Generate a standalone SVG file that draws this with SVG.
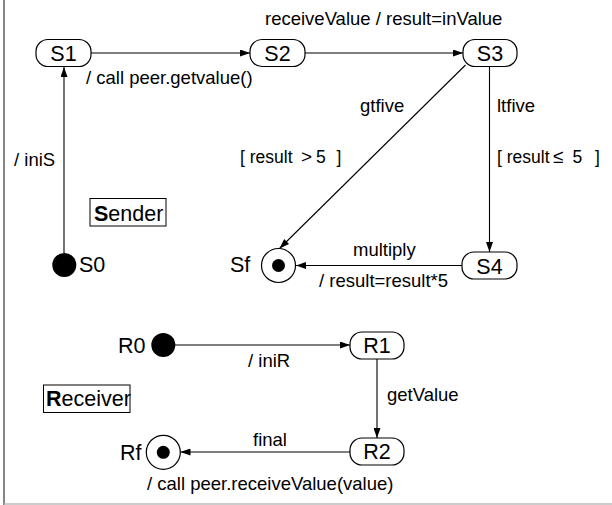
<svg xmlns="http://www.w3.org/2000/svg" width="612" height="505" viewBox="0 0 612 505">
<style>
text{font-family:"Liberation Sans",Arial,sans-serif;font-size:18.5px;fill:#000}
.nl{font-size:21.5px}
.gd{font-size:17.5px}
.st{fill:#fff;stroke:#000;stroke-width:1.2}
.ln{fill:none;stroke:#000;stroke-width:1.1}
.mid{text-anchor:middle}
</style>
<defs>
<marker id="ah" markerUnits="userSpaceOnUse" markerWidth="10" markerHeight="7" refX="10" refY="3.5" orient="auto">
<path d="M0,0 L10,3.5 L0,7 z" fill="#000"/>
</marker>
</defs>
<rect x="0" y="0" width="612" height="505" fill="#fff"/>
<line x1="4" y1="0" x2="4" y2="505" stroke="#666" stroke-width="1.6"/>
<line x1="4" y1="504" x2="612" y2="504" stroke="#bbb" stroke-width="1.5"/>

<g id="connectors">
<line class="ln" x1="64" y1="253" x2="64" y2="67" marker-end="url(#ah)"/>
<line class="ln" x1="91" y1="53" x2="250" y2="53" marker-end="url(#ah)"/>
<line class="ln" x1="305" y1="53" x2="463" y2="53" marker-end="url(#ah)"/>
<line class="ln" x1="489.5" y1="67" x2="489.5" y2="252" marker-end="url(#ah)"/>
<line class="ln" x1="465.5" y1="65" x2="279.5" y2="248.5" marker-end="url(#ah)"/>
<line class="ln" x1="462" y1="265.5" x2="296" y2="265.5" marker-end="url(#ah)"/>
<line class="ln" x1="175" y1="345" x2="350" y2="345" marker-end="url(#ah)"/>
<line class="ln" x1="377" y1="359" x2="377" y2="438" marker-end="url(#ah)"/>
<line class="ln" x1="350" y1="452" x2="180.5" y2="452" marker-end="url(#ah)"/>
<text x="265" y="25">receiveValue / result=inValue</text>
<text x="86" y="84">/ call peer.getvalue()</text>
<text x="14" y="166">/ iniS</text>
<text x="360" y="112">gtfive</text>
<text class="gd" y="163"><tspan x="240">[ result</tspan><tspan x="301" font-size="19">&gt;</tspan><tspan x="316">5</tspan><tspan x="336.5">]</tspan></text>
<text x="497" y="112">ltfive</text>
<text class="gd" y="163"><tspan x="497">[ result</tspan><tspan x="553" font-size="19">≤</tspan><tspan x="572.5">5</tspan><tspan x="595">]</tspan></text>
<text x="353" y="256">multiply</text>
<text x="319" y="287">/ result=result*5</text>
<text x="248" y="367">/ iniR</text>
<text x="387" y="401">getValue</text>
<text x="253" y="446">final</text>
<text x="147" y="490">/ call peer.receiveValue(value)</text>
</g>

<g id="S1"><rect class="st" x="36" y="39.5" width="55" height="27" rx="12"/><text class="nl mid" x="63.5" y="61">S1</text></g>
<g id="S2"><rect class="st" x="250" y="39.5" width="55" height="27" rx="12"/><text class="nl mid" x="277.5" y="61">S2</text></g>
<g id="S3"><rect class="st" x="463" y="39.5" width="54" height="27" rx="12"/><text class="nl mid" x="490" y="61">S3</text></g>
<g id="S4"><rect class="st" x="462" y="252" width="55" height="27" rx="12"/><text class="nl mid" x="489.5" y="273.5">S4</text></g>
<g id="S0"><circle cx="64.3" cy="265" r="12" fill="#000"/><text class="nl" x="79" y="272">S0</text></g>
<g id="Sf"><circle cx="278.5" cy="265.5" r="17" class="st"/><circle cx="278.5" cy="265.5" r="6.5" fill="#000"/><text class="nl" x="230" y="272">Sf</text></g>
<g id="Sender"><rect x="90" y="198.5" width="76" height="27.5" fill="#fff" stroke="#000" stroke-width="1"/><text class="nl" x="94" y="220.5"><tspan font-weight="bold">S</tspan>ender</text></g>

<g id="R0"><circle cx="163.3" cy="345" r="12" fill="#000"/><text class="nl" x="118" y="353">R0</text></g>
<g id="R1"><rect class="st" x="350" y="332" width="54" height="27" rx="12"/><text class="nl mid" x="377" y="353">R1</text></g>
<g id="R2"><rect class="st" x="350" y="438" width="54" height="27" rx="12"/><text class="nl mid" x="377" y="459">R2</text></g>
<g id="Rf"><circle cx="163.3" cy="452.3" r="17" class="st"/><circle cx="163.3" cy="452.3" r="6.5" fill="#000"/><text class="nl" x="120" y="459.5">Rf</text></g>
<g id="Receiver"><rect x="43.5" y="385" width="86.5" height="27.5" fill="#fff" stroke="#000" stroke-width="1"/><text class="nl" x="46" y="406"><tspan font-weight="bold">R</tspan>eceiver</text></g>
</svg>
